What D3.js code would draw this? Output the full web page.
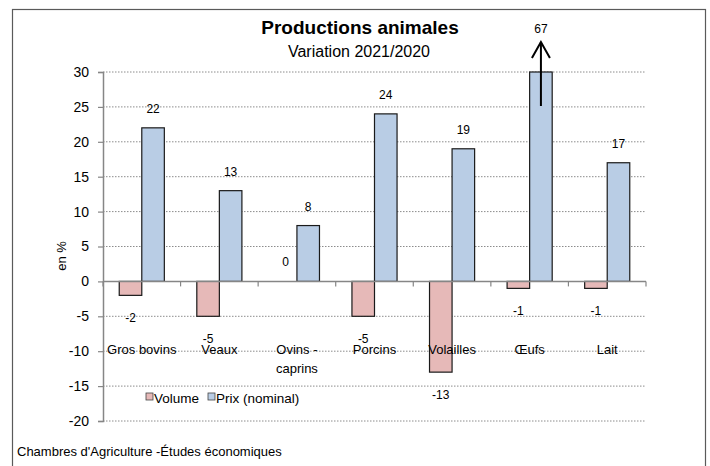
<!DOCTYPE html>
<html><head><meta charset="utf-8">
<script src="https://cdn.jsdelivr.net/npm/d3@7"></script>
<style>body{margin:0;background:#fff}svg{display:block;font-family:"Liberation Sans",Arial,sans-serif}</style>
</head><body>
<svg id="c" width="710" height="466"></svg>
<script>
const categories = ["Gros bovins","Veaux","Ovins - caprins","Porcins","Volailles","Œufs","Lait"];
const volume = [-2,-5,0,-5,-13,-1,-1];
const prix = [22,13,8,24,19,67,17];
const seriesNames = ["Volume","Prix (nominal)"];
const yTicks = [-20,-15,-10,-5,0,5,10,15,20,25,30];

const colors = {Volume:"#E6B9B8","Prix (nominal)":"#B9CDE5"};
const svg = d3.select("#c");
const L=103,R=646,T=72,B=421;

// frame
svg.append("rect").attr("x",12.5).attr("y",9.5).attr("width",693).attr("height",470)
  .attr("fill","none").attr("stroke","#5a5a5a").attr("stroke-width",1.2);

const y = d3.scaleLinear().domain([-20,30]).range([B,T]);
const x = d3.scaleBand().domain(categories).range([L,R]).padding(0);
const xs = d3.scaleBand().domain(seriesNames).range([0,x.bandwidth()]).paddingInner(0).paddingOuter(0.72);

// gridlines
svg.append("g").selectAll("line").data(yTicks.filter(t=>t!==0)).join("line")
  .attr("x1",L).attr("x2",R).attr("y1",d=>y(d)).attr("y2",d=>y(d))
  .attr("stroke","#8c8c8c").attr("stroke-width",1).attr("stroke-dasharray","1.5,1.5");

// y axis
const ya = svg.append("g").attr("transform",`translate(${L},0)`)
  .call(d3.axisLeft(y).tickValues(yTicks).tickFormat(d=>String(d)).tickSize(5).tickPadding(9));
ya.select(".domain").attr("stroke","#868686").attr("stroke-width",1.5);
ya.selectAll(".tick line").attr("stroke","#868686").attr("stroke-width",1.2);
ya.selectAll(".tick text").attr("font-size",14).attr("fill","#000").attr("font-family","Liberation Sans, Arial, sans-serif");

// bars
const data = categories.map((c,i)=>({c,vals:[{s:"Volume",v:volume[i]},{s:"Prix (nominal)",v:prix[i]}]}));
const g = svg.append("g");
data.forEach(d=>{
  d.vals.forEach(e=>{
    if(e.v===0) return;
    const vc = Math.min(e.v,30);
    g.append("rect")
      .attr("x",x(d.c)+xs(e.s)).attr("width",xs.bandwidth())
      .attr("y",y(Math.max(0,vc))).attr("height",Math.abs(y(vc)-y(0)))
      .attr("fill",colors[e.s]).attr("stroke","#1a1a1a").attr("stroke-width",1.2);
  });
});

// x axis line with ticks
svg.append("line").attr("x1",L).attr("x2",R).attr("y1",y(0)).attr("y2",y(0))
  .attr("stroke","#868686").attr("stroke-width",1.5);
svg.append("g").selectAll("line").data(d3.range(categories.length+1)).join("line")
  .attr("x1",i=>L+i*x.bandwidth()).attr("x2",i=>L+i*x.bandwidth())
  .attr("y1",y(0)).attr("y2",y(0)+5).attr("stroke","#868686").attr("stroke-width",1.2);

// category labels
const cl = svg.append("g").attr("font-size",13).attr("text-anchor","middle");
categories.forEach(c=>{
  const parts = c==="Ovins - caprins" ? ["Ovins -","caprins"] : [c];
  parts.forEach((p,k)=>{
    cl.append("text").attr("x",x(c)+x.bandwidth()/2).attr("y",y(-10)+2.5+k*19).text(p);
  });
});

// value labels
const vl = svg.append("g").attr("font-size",12).attr("text-anchor","middle");
data.forEach(d=>{
  d.vals.forEach(e=>{
    const cx = x(d.c)+xs(e.s)+xs.bandwidth()/2;
    let ty;
    if(e.v>30) ty = 33;
    else if(e.v>=0) ty = y(e.v)-15;
    else ty = y(e.v)+26.5;
    vl.append("text").attr("x",cx).attr("y",ty).text(String(e.v));
    if(e.v>30){
      svg.append("line").attr("x1",cx).attr("x2",cx).attr("y1",y(30)+34).attr("y2",42)
        .attr("stroke","#000").attr("stroke-width",2);
      svg.append("path").attr("d",`M${cx-9},${58}L${cx},${42}L${cx+9},${58}`)
        .attr("fill","none").attr("stroke","#000").attr("stroke-width",2);
    }
  });
});

// titles
svg.append("text").attr("x",360).attr("y",34).attr("text-anchor","middle")
  .attr("font-size",19).attr("font-weight","bold").text("Productions animales");
svg.append("text").attr("x",359).attr("y",57).attr("text-anchor","middle")
  .attr("font-size",16).text("Variation 2021/2020");

// y label
svg.append("text").attr("transform","translate(66,256) rotate(-90)").attr("text-anchor","middle")
  .attr("font-size",13).text("en %");

// legend
const lg = svg.append("g").attr("font-size",13.5);
[{s:"Volume",x:146},{s:"Prix (nominal)",x:208}].forEach((it,i)=>{
  lg.append("rect").attr("x",it.x).attr("y",393).attr("width",7).attr("height",7)
    .attr("fill",colors[it.s]).attr("stroke","#444").attr("stroke-width",0.8);
  lg.append("text").attr("x",it.x+8).attr("y",402.5).text(it.s);
});

// source
svg.append("text").attr("x",17).attr("y",456).attr("font-size",13)
  .text("Chambres d'Agriculture -Études économiques");
</script>
</body></html>
